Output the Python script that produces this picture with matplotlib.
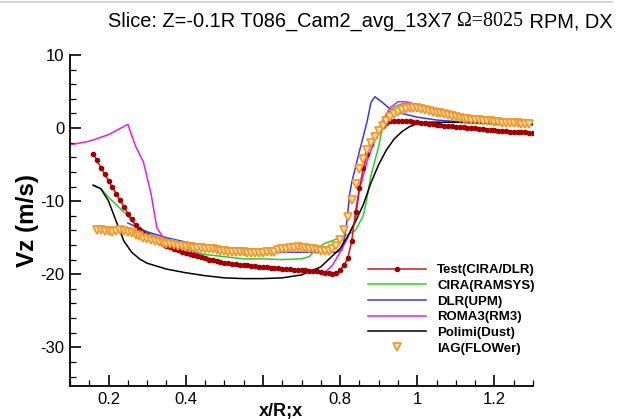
import numpy as np
import matplotlib
matplotlib.use("Agg")
import matplotlib.pyplot as plt
from matplotlib.lines import Line2D
from matplotlib.ticker import MultipleLocator

# ---- data ----
# measured series (Test, IAG) are sampled every 0.01 x/R
test_x = np.round(np.arange(0.16, 1.305, 0.01), 2)
test_y = [-3.5, -4.4, -5.4, -6.3, -7.2, -8.1, -9.0, -9.9, -10.8, -11.7,
          -12.5, -13.2, -13.8, -14.3, -14.7, -15.0, -15.3, -15.6, -15.8, -16.1,
          -16.3, -16.5, -16.7, -16.9, -17.1, -17.25, -17.4, -17.55, -17.7, -17.85,
          -18.0, -18.1, -18.2, -18.3, -18.4, -18.5, -18.6, -18.65, -18.7, -18.75,
          -18.8, -18.85, -18.9, -18.95, -19.0, -19.05, -19.1, -19.15, -19.2, -19.25,
          -19.3, -19.35, -19.4, -19.4, -19.4, -19.45, -19.5, -19.55, -19.6, -19.7,
          -19.8, -19.9, -20.0, -19.9, -19.4, -18.8, -17.8, -15.5, -11.5, -8.2,
          -5.5, -3.6, -2.2, -1.1, -0.3, 0.3, 0.7, 0.9, 1.0, 1.0,
          1.0, 0.95, 0.9, 0.85, 0.8, 0.75, 0.7, 0.6, 0.5, 0.45,
          0.4, 0.35, 0.3, 0.25, 0.2, 0.15, 0.1, 0.05, 0.0, -0.05,
          -0.1, -0.15, -0.2, -0.25, -0.3, -0.35, -0.4, -0.45, -0.5, -0.5,
          -0.5, -0.55, -0.6, -0.65, -0.7]

iag_x = np.round(np.arange(0.17, 1.295, 0.01), 2)
iag_y = [-13.9, -14.0, -14.05, -14.1, -14.2, -14.1, -14.0, -14.05, -14.2, -14.4,
         -14.6, -14.8, -15.0, -15.15, -15.3, -15.45, -15.6, -15.7, -15.8, -15.9,
         -16.0, -16.1, -16.2, -16.25, -16.3, -16.35, -16.4, -16.45, -16.5, -16.55,
         -16.6, -16.7, -16.8, -16.85, -16.9, -16.95, -17.0, -17.0, -17.0, -17.05,
         -17.1, -17.1, -17.1, -17.05, -17.0, -16.95, -16.9, -16.75, -16.6, -16.5,
         -16.4, -16.35, -16.3, -16.35, -16.4, -16.5, -16.6, -16.7, -16.8, -16.85,
         -16.8, -16.6, -16.1, -15.3, -14.0, -12.2, -9.8, -7.6, -5.6, -4.2,
         -3.0, -2.0, -1.2, -0.4, 0.3, 0.9, 1.5, 1.9, 2.2, 2.45,
         2.6, 2.7, 2.7, 2.7, 2.6, 2.5, 2.4, 2.25, 2.1, 2.0,
         1.9, 1.75, 1.6, 1.5, 1.4, 1.3, 1.2, 1.15, 1.1, 1.05,
         1.0, 0.95, 0.9, 0.85, 0.8, 0.75, 0.7, 0.7, 0.7, 0.65,
         0.6, 0.6, 0.6]

cira_x = [0.16, 0.18, 0.20, 0.22, 0.25, 0.27, 0.30, 0.35, 0.40, 0.45, 0.50, 0.55, 0.60, 0.65,
          0.70, 0.72, 0.74, 0.76, 0.78, 0.80, 0.82, 0.84, 0.85, 0.86, 0.87, 0.88, 0.89, 0.90,
          0.91, 0.92, 0.94, 0.96, 0.98, 1.00, 1.05, 1.10, 1.15, 1.20, 1.25, 1.30]
cira_y = [-7.9, -8.3, -9.5, -10.5, -12.0, -13.3, -14.3, -15.5, -16.6, -17.3, -17.6, -17.9, -17.9, -18.0,
          -17.9, -17.6, -16.5, -15.8, -15.4, -15.0, -14.6, -14.0, -13.0, -12.0, -9.5, -6.5, -4.5, -2.5,
          0.2, 1.8, 2.9, 3.3, 3.4, 3.2, 2.5, 1.6, 1.0, 0.7, 0.5, 0.4]

dlr_x = [0.25, 0.30, 0.35, 0.40, 0.45, 0.50, 0.56, 0.60, 0.65, 0.70, 0.75, 0.79, 0.805, 0.815,
         0.825, 0.83, 0.85, 0.87, 0.88, 0.89, 0.91, 0.93, 0.96, 1.00, 1.05, 1.10, 1.20, 1.30]
dlr_y = [-13.0, -14.2, -15.0, -15.6, -16.0, -16.3, -16.6, -16.8, -17.0, -17.0, -17.0, -17.0, -16.7, -14.0,
         -9.0, -7.5, -3.2, 0.9, 3.5, 4.3, 3.5, 2.6, 2.0, 1.5, 1.1, 0.9, 0.6, 0.5]

roma_x = [0.10, 0.15, 0.20, 0.25, 0.27, 0.29, 0.31, 0.325, 0.34, 0.38, 0.42, 0.46, 0.50, 0.55,
          0.60, 0.65, 0.70, 0.76, 0.78, 0.80, 0.82, 0.84, 0.85, 0.87, 0.89, 0.91, 0.93, 0.95,
          0.97, 1.00, 1.05, 1.10, 1.15, 1.20, 1.25, 1.30]
roma_y = [-2.3, -1.8, -0.9, 0.5, -2.5, -4.6, -9.0, -13.6, -14.9, -16.0, -17.0, -17.8, -18.4, -18.9,
          -19.2, -19.4, -19.6, -19.8, -18.8, -17.0, -15.0, -12.5, -8.5, -4.5, -1.6, 1.0, 2.8, 3.6,
          3.6, 3.2, 2.5, 1.8, 1.2, 0.9, 0.7, 0.6]

polimi_x = [0.16, 0.18, 0.20, 0.22, 0.24, 0.26, 0.28, 0.30, 0.35, 0.40, 0.45, 0.50, 0.55, 0.60,
            0.65, 0.70, 0.75, 0.78, 0.80, 0.82, 0.84, 0.86, 0.88, 0.90, 0.92, 0.94, 0.96, 0.98,
            1.00, 1.03, 1.10, 1.20, 1.30]
polimi_y = [-7.8, -8.3, -10.0, -12.8, -15.5, -17.0, -17.9, -18.5, -19.3, -19.8, -20.2, -20.5, -20.6, -20.6,
            -20.5, -20.1, -19.0, -17.5, -16.5, -14.8, -12.8, -10.5, -7.5, -5.0, -3.0, -1.5, -0.5, 0.2,
            0.6, 0.8, 0.8, 0.6, 0.5]

# the 0.6 label sits under the axis title in the reference, so it is left blank
x_ticks = [0.2, 0.4, 0.6, 0.8, 1.0, 1.2]
x_ticklabels = ['0.2', '0.4', '', '0.8', '1', '1.2']
y_ticks = [10, 0, -10, -20, -30]

plt.rcParams['font.family'] = ['Liberation Sans', 'DejaVu Sans']
plt.rcParams['xtick.direction'] = 'in'
plt.rcParams['ytick.direction'] = 'in'
plt.rcParams['axes.unicode_minus'] = False

fig = plt.figure(figsize=(6.21, 4.19), dpi=100)
ax = fig.add_axes([70 / 621, 1 - 386 / 419, 463 / 621, 331 / 419])

lw = 1.1
ax.plot(test_x, test_y, color='#d01818', lw=lw, marker='o', ms=3.0,
        mfc='#a00000', mec='#a00000', label='Test(CIRA/DLR)', zorder=3)
ax.plot(cira_x, cira_y, color='#2ccc2c', lw=lw, label='CIRA(RAMSYS)')
ax.plot(dlr_x, dlr_y, color='#3a3ae0', lw=lw, label='DLR(UPM)')
ax.plot(roma_x, roma_y, color='#e020e0', lw=lw, label='ROMA3(RM3)')
ax.plot(polimi_x, polimi_y, color='black', lw=lw, label='Polimi(Dust)')
ax.plot(iag_x, iag_y, ls='none', marker='v', ms=5.5, mfc='#fde0a8', mec='#f0962a',
        mew=1.2, label='IAG(FLOWer)', zorder=4)

ax.set_xlim(0.1, 1.3)
ax.set_ylim(-35.3, 10)
ax.xaxis.set_minor_locator(MultipleLocator(0.05))
ax.yaxis.set_minor_locator(MultipleLocator(2))
ax.set_xticks(x_ticks)
ax.set_xticklabels(x_ticklabels)
ax.set_yticks(y_ticks)
ax.tick_params(which='major', length=8, width=1.2, labelsize=12, pad=4)
ax.tick_params(which='minor', length=4, width=0.9)
ax.spines['top'].set_visible(False)
ax.spines['right'].set_visible(False)
ax.spines['left'].set_linewidth(1.3)
ax.spines['bottom'].set_linewidth(1.3)
ax.set_ylabel('Vz (m/s)', fontsize=17.5, fontweight='bold', labelpad=1)
ax.set_xlabel('x/R;x', fontsize=13, fontweight='bold')
ax.xaxis.set_label_coords((281 - 70) / 463, -0.05, transform=ax.transAxes)
ax.xaxis.label.set_va('top')

ax.legend(loc='upper left', bbox_to_anchor=((368 - 70) / 463, (386 - 264) / 331),
          frameon=False, borderpad=0, borderaxespad=0, handlelength=4.4,
          handletextpad=0.85, labelspacing=0.26, prop={'size': 9.5, 'weight': 'bold'})

# title in pieces: sans / serif / sans
t1 = fig.text(108 / 621, 1 - 27 / 419, 'Slice: Z=-0.1R T086_Cam2_avg_13X7 ',
              fontsize=14.4, va='baseline', ha='left')
t2 = ax.annotate('\u03a9=8025', xy=(1, 0), xycoords=t1, va='bottom', ha='left',
                 fontsize=14.4, family='Liberation Serif', annotation_clip=False)
t3 = ax.annotate(' RPM, DX', xy=(1, 0), xycoords=t2, va='bottom', ha='left',
                 fontsize=14.4, annotation_clip=False)

fig.add_artist(Line2D([0, 612 / 621], [1 - 2.5 / 419, 1 - 2.5 / 419],
                      transform=fig.transFigure, color='#cccccc', lw=1.2))

fig.savefig('out.png', dpi=100)
